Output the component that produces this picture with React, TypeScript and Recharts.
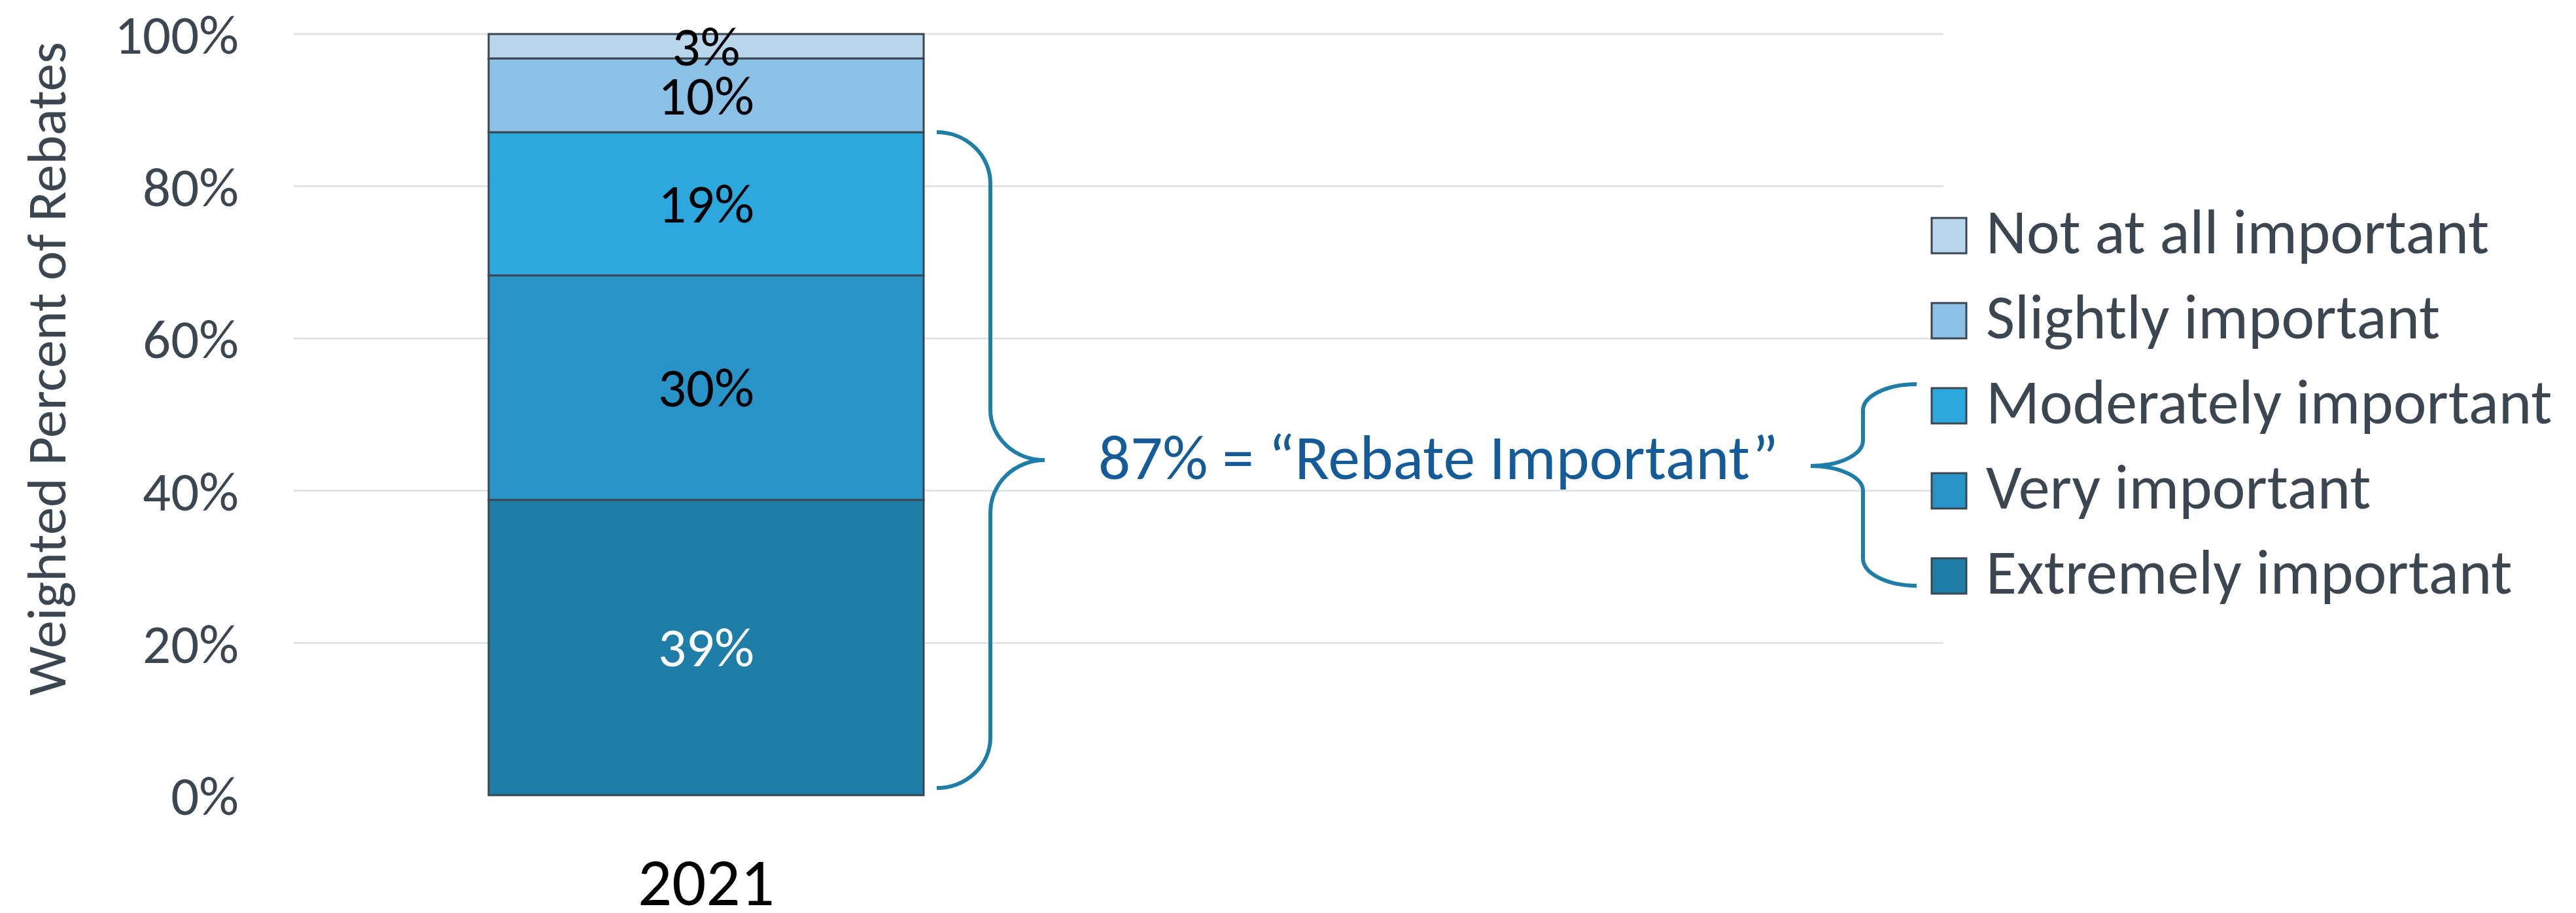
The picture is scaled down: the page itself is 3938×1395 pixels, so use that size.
import React from 'react';
import { BarChart, Bar, XAxis, YAxis, CartesianGrid, Legend, LabelList, ReferenceArea } from 'recharts';

// ---- data ----
const categories = ['2021', ''];
const seriesNames = ['Extremely important', 'Very important', 'Moderately important', 'Slightly important', 'Not at all important'];
const seriesKeys = ['extremely', 'very', 'moderately', 'slightly', 'notAtAll'];
const seriesColors = ['#1f7ea8', '#2893c6', '#2da8de', '#8bc1e6', '#b9d6ed'];
const labelColors = ['#ffffff', '#000000', '#000000', '#000000', '#000000'];

const extremelyValues = [38.8, null];
const veryValues = [29.5, null];
const moderatelyValues = [18.8, null];
const slightlyValues = [9.7, null];
const notAtAllValues = [3.2, null];

const extremelyLabels = ['39%', ''];
const veryLabels = ['30%', ''];
const moderatelyLabels = ['19%', ''];
const slightlyLabels = ['10%', ''];
const notAtAllLabels = ['3%', ''];

const yTicks = [0, 20, 40, 60, 80, 100];
const gridValues = [20, 40, 60, 80, 100];
const importantText = '87% = \u201CRebate Important\u201D';
const yAxisTitle = 'Weighted Percent of Rebates';

const seriesValues = [extremelyValues, veryValues, moderatelyValues, slightlyValues, notAtAllValues];
const seriesLabels = [extremelyLabels, veryLabels, moderatelyLabels, slightlyLabels, notAtAllLabels];

const data = categories.map((category, i) => {
  const row: any = { category };
  seriesKeys.forEach((k, s) => {
    row[k] = seriesValues[s][i];
    row[k + 'Label'] = seriesLabels[s][i];
  });
  return row;
});

const importantTotal = (extremelyValues[0] as number) + (veryValues[0] as number) + (moderatelyValues[0] as number);

// ---- style ----
const FONT = 'Carlito, Calibri, Lato, sans-serif';
const TEXT_GRAY = '#3c4650';
const BRACE = '#1f7ea8';
const BAR_STROKE = '#3b4651';

const YTitle = (props: any) => {
  const vb = props.viewBox || {};
  const cx = 100;
  const cy = vb.y + vb.height / 2 - 70;
  return (
    <text x={cx} y={cy} transform={`rotate(-90 ${cx} ${cy})`} textAnchor="middle" fontFamily={FONT} fontSize={85} fill={TEXT_GRAY}>
      {yAxisTitle}
    </text>
  );
};

const BigBrace = (props: any) => {
  const { x, y, height } = props;
  const top = y;
  const bot = y + height - 11;
  const mid = (top + bot) / 2;
  const x0 = x + 983;
  const xm = x + 1065;
  const xp = x + 1148;
  const d = `M${x0},${top} A82,78 0 0 1 ${xm},${top + 78} L${xm},${mid - 77} A83,77 0 0 0 ${xp},${mid} A83,80 0 0 0 ${xm},${mid + 80} L${xm},${bot - 77} A82,77 0 0 1 ${x0},${bot}`;
  return (
    <g>
      <path d={d} fill="none" stroke={BRACE} strokeWidth={6} />
      <text x={x + 1230} y={mid + 29} fontFamily={FONT} fontSize={97} fill="#155b98">
        {importantText}
      </text>
    </g>
  );
};

const LegendContent = (props: any) => {
  const payload = [...(props.payload || [])];
  payload.sort((a: any, b: any) => seriesNames.indexOf(b.value) - seriesNames.indexOf(a.value));
  const braceD = 'M190,287 A82,40 0 0 0 108,327 L108,373 A80,39 0 0 1 28,412 A80,38 0 0 1 108,450 L108,553 A82,42 0 0 0 190,595';
  return (
    <svg width={1198} height={650} style={{ display: 'block', overflow: 'visible' }}>
      <path d={braceD} fill="none" stroke={BRACE} strokeWidth={6} />
      {payload.map((item: any, i: number) => {
        const cy = 60 + 130 * i;
        return (
          <g key={item.value}>
            <rect x={213} y={cy - 27} width={53} height={54} fill={item.color} stroke={BAR_STROKE} strokeWidth={3} />
            <text x={296} y={cy + 27} fontFamily={FONT} fontSize={96} fill={TEXT_GRAY}>
              {item.value}
            </text>
          </g>
        );
      })}
    </svg>
  );
};

const SegmentLabel = (color: string) => (props: any) => {
  const { x, y, width, height, value } = props;
  if (!value) return null;
  return (
    <text x={x + width / 2} y={y + height / 2} textAnchor="middle" dominantBaseline="central" fontFamily={FONT} fontSize={85} fill={color}>
      {value}
    </text>
  );
};

export default function App() {
  return (
    <div style={{ position: 'absolute', left: 0, top: 0, width: 3938, height: 1395, background: '#ffffff' }}>
      <BarChart
        width={3938}
        height={1395}
        data={data}
        margin={{ top: 52, right: 967, bottom: 0, left: 0 }}
      >
        <CartesianGrid vertical={false} horizontalValues={gridValues} stroke="#dde1e4" strokeWidth={2.5} />
        <XAxis
          dataKey="category"
          height={180}
          axisLine={false}
          tickLine={false}
          tickSize={0}
          tickMargin={95}
          tick={{ fontSize: 103, fill: '#000000', fontFamily: FONT }}
          interval={0}
        />
        <YAxis
          width={449}
          domain={[0, 100]}
          ticks={yTicks}
          tickFormatter={(v: number) => `${v}%`}
          axisLine={false}
          tickLine={false}
          tickSize={0}
          tickMargin={84}
          tick={{ fontSize: 85, fill: TEXT_GRAY, fontFamily: FONT }}
          label={(p: any) => <YTitle {...p} />}
        />
        <Legend
          layout="vertical"
          align="center"
          verticalAlign="middle"
          wrapperStyle={{ left: 2740, top: 300, width: 1198, height: 650 }}
          content={(p: any) => <LegendContent {...p} />}
        />
        {seriesKeys.map((k, s) => (
          <Bar
            key={k}
            dataKey={k}
            name={seriesNames[s]}
            stackId="a"
            fill={seriesColors[s]}
            stroke={BAR_STROKE}
            strokeWidth={3}
            barSize={665}
            isAnimationActive={false}
          >
            <LabelList dataKey={k + 'Label'} content={SegmentLabel(labelColors[s])} />
          </Bar>
        ))}
        <ReferenceArea y1={0} y2={importantTotal} shape={(p: any) => <BigBrace {...p} />} />
      </BarChart>
    </div>
  );
}
